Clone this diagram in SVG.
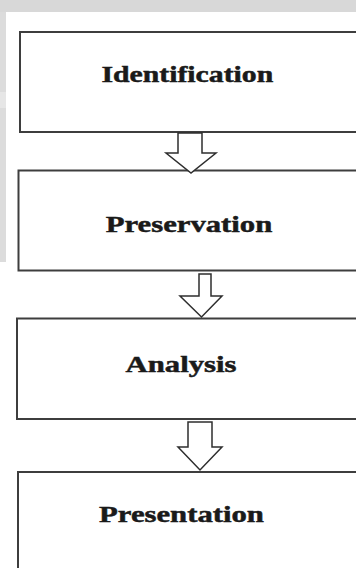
<svg xmlns="http://www.w3.org/2000/svg" width="356" height="568" viewBox="0 0 356 568">
  <style>
    .box { fill: #ffffff; stroke: #3e3e3e; stroke-width: 2; }
    .arrow { fill: #ffffff; stroke: #2e2e2e; stroke-width: 1.5; stroke-linejoin: miter; }
    .label { font-family: "Liberation Serif", "Times New Roman", serif; font-weight: bold; font-size: 24px; fill: #1a1a1a; stroke: #1a1a1a; stroke-width: 0.5; text-anchor: middle; }
  </style>
  <rect x="0" y="0" width="356" height="568" fill="#ffffff"/>
  <rect x="0" y="0" width="356" height="12" fill="#d8d8d8"/>
  <rect x="0" y="12" width="6" height="250" fill="#dcdcdc"/>
  <rect x="0" y="92" width="6" height="16" fill="#e6e6e6"/>

  <g id="node-identification">
    <rect class="box" x="20" y="32" width="345" height="100"/>
    <text class="label" transform="translate(187.3,82) scale(1.24,1)">Identification</text>
  </g>
  <g id="node-preservation">
    <rect class="box" x="18.5" y="170.5" width="345" height="100"/>
    <text class="label" transform="translate(189,232) scale(1.28,1)">Preservation</text>
  </g>
  <g id="node-analysis">
    <rect class="box" x="17" y="318.5" width="345" height="100.5"/>
    <text class="label" transform="translate(181,372) scale(1.28,1)">Analysis</text>
  </g>
  <g id="node-presentation">
    <rect class="box" x="18" y="472" width="345" height="110"/>
    <text class="label" transform="translate(181.5,522) scale(1.28,1)">Presentation</text>
  </g>

  <g id="connectors">
    <polygon class="arrow" points="178,133 202,133 202,153 216,153 191,173 166,153 178,153"/>
    <polygon class="arrow" points="199,274 211,274 211,296 222,296 201.5,317 180,296 199,296"/>
    <polygon class="arrow" points="188,422 212,422 212,447 222,447 200,470 178,447 188,447"/>
  </g>
</svg>
